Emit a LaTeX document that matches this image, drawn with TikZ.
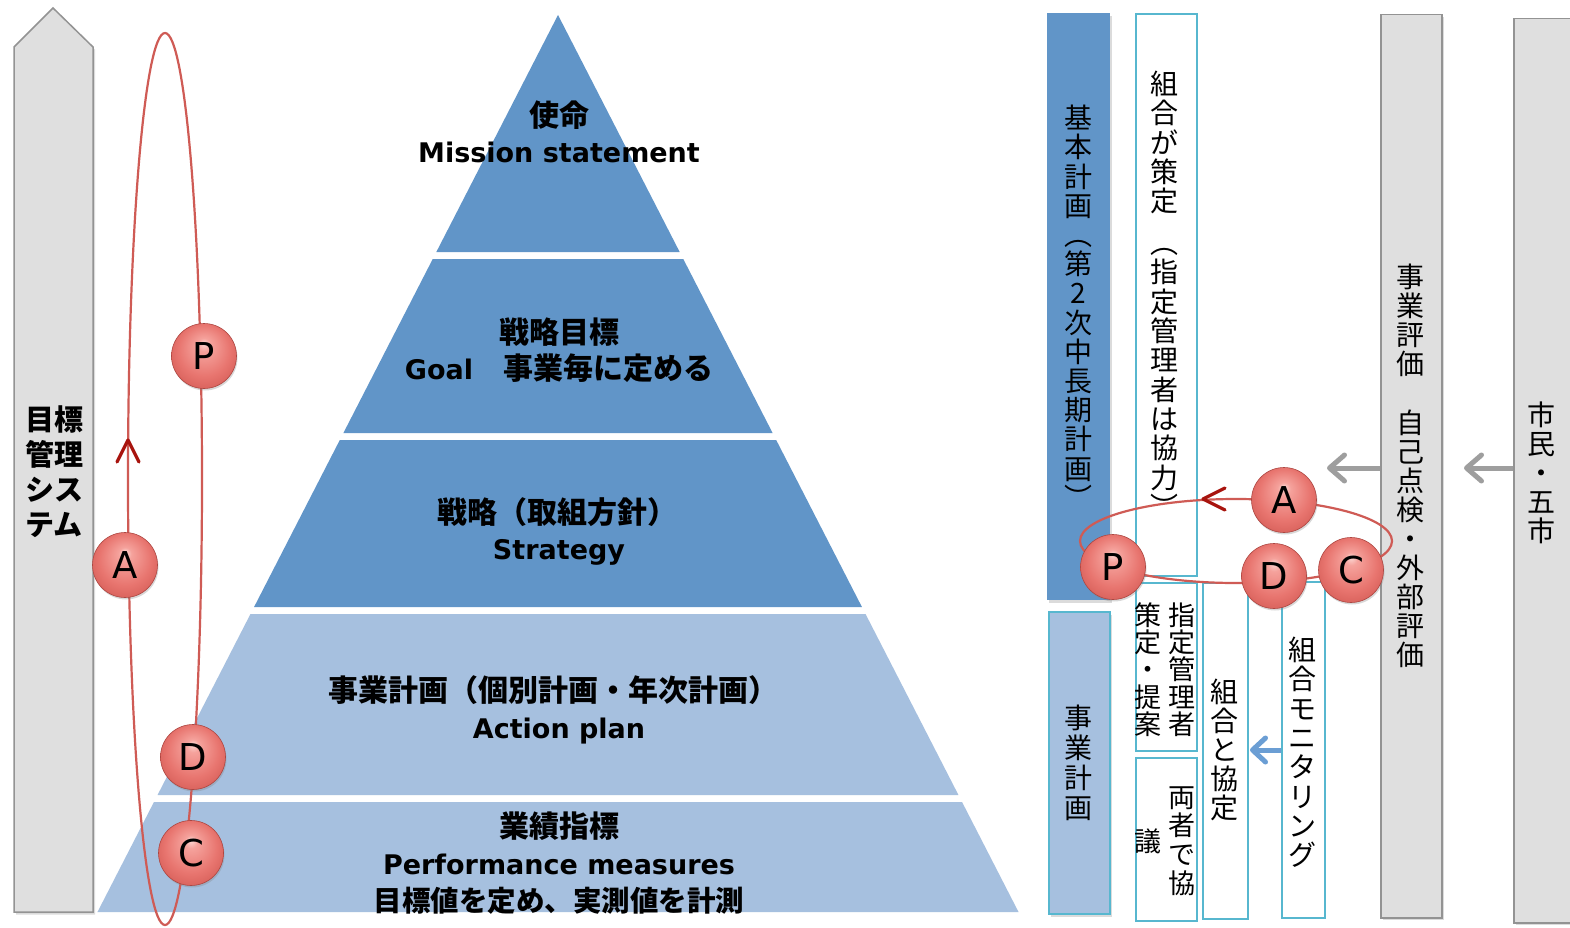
\documentclass[tikz,border=0pt]{standalone}
\usepackage{fontspec}
\setmainfont{DejaVu Sans}
\newfontfamily\jp{Noto Sans CJK JP}
\usetikzlibrary{shadows,arrows.meta}

\definecolor{pyrdark}{HTML}{6195C8}
\definecolor{pyrlight}{HTML}{A6C0DF}
\definecolor{grayfill}{HTML}{DFDFDF}
\definecolor{grayline}{HTML}{939393}
\definecolor{cyanline}{HTML}{57B7CF}
\definecolor{cyclered}{HTML}{CF5B55}
\definecolor{darkred}{HTML}{A8140E}
\definecolor{arrowgray}{HTML}{9E9E9E}
\definecolor{arrowblue}{HTML}{6B9ED4}
\definecolor{ballA}{HTML}{FCDAD6}
\definecolor{ballB}{HTML}{F5A29C}
\definecolor{ballC}{HTML}{E8756F}
\definecolor{ballD}{HTML}{CC524C}

\pgfdeclareradialshading{pdcaball}{\pgfpoint{0bp}{10bp}}{color(0bp)=(ballA); color(5bp)=(ballB); color(20bp)=(ballC); color(35bp)=(ballD)}

\newcommand{\vtext}[6]{%
  \pgfmathsetmacro\vtoff{-0.38*#5}%
  \foreach \ch [count=\k from 0] in {#6} {%
    \node[vchar, yshift=\vtoff pt, font=\jp\fontsize{#5}{#5}\selectfont] (#1-\k) at (#2, {#3+\k*#4}) {\ch};
  }%
}
\newcommand{\pyrlayer}[3]{%
  \fill[#3] ({558-(#1-15)*0.5134},#1) -- ({558+(#1-15)*0.5134},#1)
    -- ({558+(#2-15)*0.5134},#2) -- ({558-(#2-15)*0.5134},#2) -- cycle;}

\begin{document}
\begin{tikzpicture}[x=1pt,y=-1pt,
  softshadow/.style={drop shadow={opacity=0.28, shadow xshift=2pt, shadow yshift=-2.5pt}},
  grayshape/.style={fill=grayfill, draw=grayline, line width=1.5pt, softshadow},
  bluebox/.style={rectangle, inner sep=0pt, anchor=north west, fill=pyrdark, softshadow},
  lightbox/.style={rectangle, inner sep=0pt, anchor=north west, fill=pyrlight, draw=cyanline, line width=2pt, softshadow},
  wbox/.style={rectangle, inner sep=0pt, anchor=north west, fill=white, draw=cyanline, line width=2pt},
  graybox/.style={rectangle, inner sep=0pt, anchor=north west, fill=grayfill, draw=grayline, line width=1.5pt, softshadow},
  vchar/.style={anchor=base, inner sep=0pt},
  mktxt/.style={anchor=base, inner sep=0pt, font=\jp\bfseries\fontsize{29}{29}\selectfont},
  ptj/.style={anchor=base, inner sep=0pt, font=\jp\bfseries\fontsize{30}{30}\selectfont},
  ptl/.style={anchor=base, inner sep=0pt, font=\bfseries\fontsize{27}{27}\selectfont},
  cyc/.style={draw=cyclered, line width=2.2pt},
  vhead/.style={draw=darkred, line width=3.2pt, line cap=round, line join=round},
  garrow/.style={draw=arrowgray, line width=5pt, -{Straight Barb[length=15pt,width=26pt,round]}},
  barrow/.style={draw=arrowblue, line width=5pt, -{Straight Barb[length=13pt,width=24pt,round]}},
  pdca/.style={circle, minimum size=65pt, inner sep=0pt, shade, shading=pdcaball,
    draw=ballD!85!black, line width=0.6pt, font=\fontsize{37}{37}\selectfont,
    drop shadow={opacity=0.3, shadow xshift=1pt, shadow yshift=-2pt}}
]
\fill[white] (0,0) rectangle (1570,928);
\useasboundingbox (0,0) rectangle (1570,928);

% ---------- left arrow ----------
\draw[grayshape] (14,47) -- (53,8) -- (93,47) -- (93,912) -- (14,912) -- cycle;
\node[mktxt] (mk1) at (54,430) {目標};
\node[mktxt] (mk2) at (54,465) {管理};
\node[mktxt] (mk3) at (54,500) {シス};
\node[mktxt] (mk4) at (54,535) {テム};

% ---------- pyramid ----------
\pyrlayer{15}{252}{pyrdark}
\pyrlayer{259}{433}{pyrdark}
\pyrlayer{440}{607}{pyrdark}
\pyrlayer{614}{795}{pyrlight}
\pyrlayer{802}{912}{pyrlight}

\node[ptj] (t1a) at (559,127) {使命};
\node[ptl] (t1b) at (559,163) {Mission statement};
\node[ptj] (t2a) at (559,343) {戦略目標};
\node[ptj] (t2b) at (559,379) {{\rmfamily\bfseries\fontsize{27}{27}\selectfont Goal}　事業毎に定める};
\node[ptj] (t3a) at (557,523) {戦略（取組方針）};
\node[ptl] (t3b) at (559,559) {Strategy};
\node[ptj] (t4a) at (553,701) {事業計画（個別計画・年次計画）};
\node[ptl] (t4b) at (559,738) {Action plan};
\node[ptj] (t5a) at (559,837) {業績指標};
\node[ptl] (t5b) at (559,874) {Performance measures};
\begin{scope}
  \clip (0,0) rectangle (1570,913);
  \node[ptj, font=\jp\bfseries\fontsize{28.5}{28.5}\selectfont] (t5c) at (559,911) {目標値を定め、実測値を計測};
\end{scope}

% ---------- left PDCA cycle ----------
\coordinate (lcyc) at (165,479);
\draw[cyc] (lcyc) ellipse [x radius=37pt, y radius=446pt];
\draw[vhead] (117,462) -- (128,440) -- (139,462);
\node[pdca] (lP) at (204,356) {P};
\node[pdca] (lA) at (125,565) {A};
\node[pdca] (lD) at (193,757) {D};
\node[pdca] (lC) at (191,853) {C};

% ---------- right panel boxes ----------
\node[bluebox, minimum width=63pt, minimum height=587pt] (kihon) at (1047,13) {};
\node[lightbox, minimum width=61pt, minimum height=302pt] (jkeikaku) at (1048,611) {};
\node[wbox, minimum width=61pt, minimum height=562pt] (kumiai) at (1135,13) {};
\node[wbox, minimum width=61pt, minimum height=168pt] (shitei) at (1135,582) {};
\node[wbox, minimum width=61pt, minimum height=163pt] (ryosha) at (1135,757) {};
\node[wbox, minimum width=45pt, minimum height=336pt] (kyotei) at (1202,582) {};
\node[wbox, minimum width=43pt, minimum height=336pt] (moni) at (1281,581) {};
\node[graybox, minimum width=61pt, minimum height=903pt] (hyoka) at (1380,14) {};
\node[graybox, minimum width=80pt, minimum height=904pt] (shimin) at (1513,18) {};

\vtext{kt}{1078}{118}{29.2}{28}{基,本,計,画,︵,第,2,次,中,長,期,計,画,︶}
\vtext{jk}{1078}{718}{30}{28}{事,業,計,画}
\vtext{ka}{1164}{84}{29.3}{28}{組,合,が,策,定}
\vtext{kb}{1164}{243}{29.3}{28}{︵,指,定,管,理,者,は,協,力,︶}
\vtext{sa}{1182}{615}{27.3}{27}{指,定,管,理,者}
\vtext{sb}{1148}{615}{27.3}{27}{策,定,・,提,案}
\vtext{ra}{1182}{797}{28.7}{27}{両,者,で,協}
\vtext{rb}{1148}{841}{28.7}{27}{議}
\vtext{kk}{1224}{692}{29}{28}{組,合,と,協,定}
\vtext{mo}{1302}{650}{29.3}{28}{組,合,モ,ニ,タ,リ,ン,グ}
\vtext{hy}{1410}{277}{29.1}{28}{事,業,評,価,{},自,己,点,検,・,外,部,評,価}
\vtext{sh}{1541}{415}{29}{28}{市,民,・,五,市}

% ---------- arrows ----------
\coordinate (ga1) at (1327,468);
\coordinate (ga2) at (1464,468);
\coordinate (ba) at (1250,750);
\draw[garrow] (hyoka.west |- ga1) -- (ga1);
\draw[garrow] (shimin.west |- ga2) -- (ga2);
\draw[barrow] (moni.west |- ba) -- (ba);

% ---------- right PDCA cycle ----------
\coordinate (rcyc) at (1236,541);
\draw[cyc] (rcyc) ellipse [x radius=156pt, y radius=42pt];
\draw[vhead] (1225,488) -- (1203,499) -- (1225,510);
\node[pdca] (rP) at (1113,567) {P};
\node[pdca] (rA) at (1284,500) {A};
\node[pdca] (rD) at (1274,576) {D};
\node[pdca] (rC) at (1351,570) {C};
\end{tikzpicture}
\end{document}
